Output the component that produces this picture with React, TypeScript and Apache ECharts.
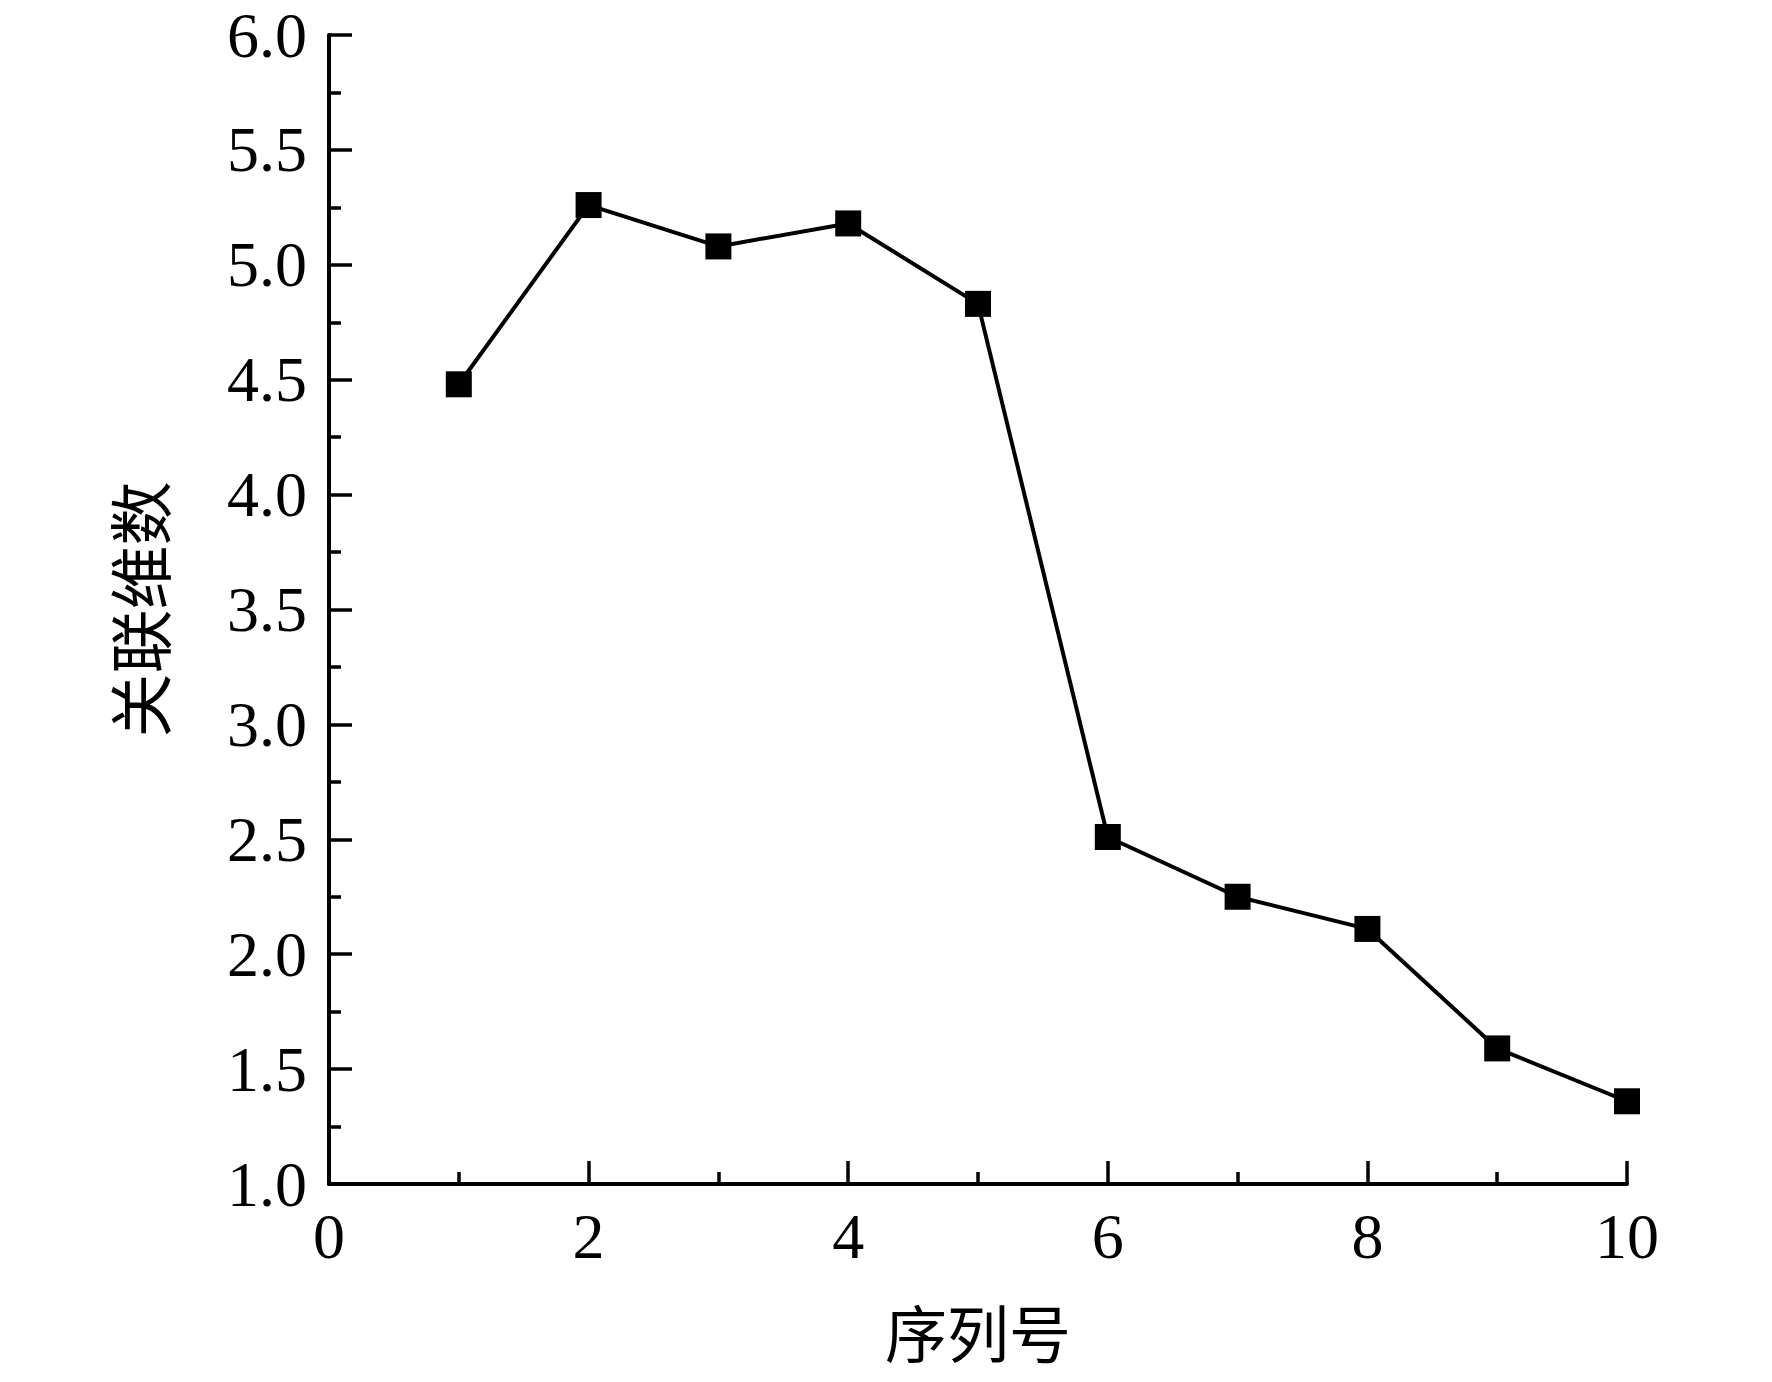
import React, { useEffect, useRef } from "react";
import * as echarts from "echarts";

const seqNumbers = [1, 2, 3, 4, 5, 6, 7, 8, 9, 10];
const dimensions = [4.48, 5.26, 5.08, 5.18, 4.83, 2.51, 2.25, 2.11, 1.59, 1.36];
const xAxisTitle = "序列号";
const yAxisTitle = "关联维数";

const SERIF = "'Liberation Serif', 'Times New Roman', serif";
const CJK = "'Noto Sans CJK SC', sans-serif";

export default function App() {
  const ref = useRef<HTMLDivElement>(null);
  useEffect(() => {
    document.body.style.margin = "0";
    if (!ref.current) return;
    const chart = echarts.init(ref.current, undefined, { renderer: "svg" });
    const axisLine = { show: true, lineStyle: { color: "#000", width: 4 } };
    chart.setOption({
      animation: false,
      backgroundColor: "#fff",
      grid: { left: 329, right: 145, top: 35, bottom: 198, containLabel: false },
      xAxis: {
        type: "value",
        min: 0,
        max: 10,
        interval: 2,
        name: xAxisTitle,
        nameLocation: "middle",
        nameGap: 116,
        nameTextStyle: { fontFamily: CJK, fontSize: 62, color: "#000", verticalAlign: "top" },
        axisLine,
        axisTick: { show: true, inside: true, length: 23, lineStyle: { color: "#000", width: 3.5 } },
        minorTick: { show: true, splitNumber: 2, length: 12, lineStyle: { color: "#000", width: 3.5 } },
        splitLine: { show: false },
        axisLabel: { fontFamily: SERIF, fontSize: 64, color: "#000", margin: 20 },
      },
      yAxis: {
        type: "value",
        min: 1,
        max: 6,
        interval: 0.5,
        name: yAxisTitle,
        nameLocation: "middle",
        nameGap: 160,
        nameRotate: 90,
        nameTextStyle: { fontFamily: CJK, fontSize: 64, color: "#000" },
        axisLine,
        axisTick: { show: true, inside: true, length: 23, lineStyle: { color: "#000", width: 3.5 } },
        minorTick: { show: true, splitNumber: 2, length: 12, lineStyle: { color: "#000", width: 3.5 } },
        splitLine: { show: false },
        axisLabel: {
          fontFamily: SERIF,
          fontSize: 64,
          color: "#000",
          margin: 22,
          formatter: (v: number) => v.toFixed(1),
        },
      },
      series: [
        {
          type: "line",
          data: seqNumbers.map((x, i) => [x, dimensions[i]]),
          symbol: "rect",
          symbolSize: 26,
          itemStyle: { color: "#000" },
          lineStyle: { color: "#000", width: 4 },
        },
      ],
    });
    return () => chart.dispose();
  }, []);
  return <div ref={ref} style={{ width: 1772, height: 1382 }} />;
}
